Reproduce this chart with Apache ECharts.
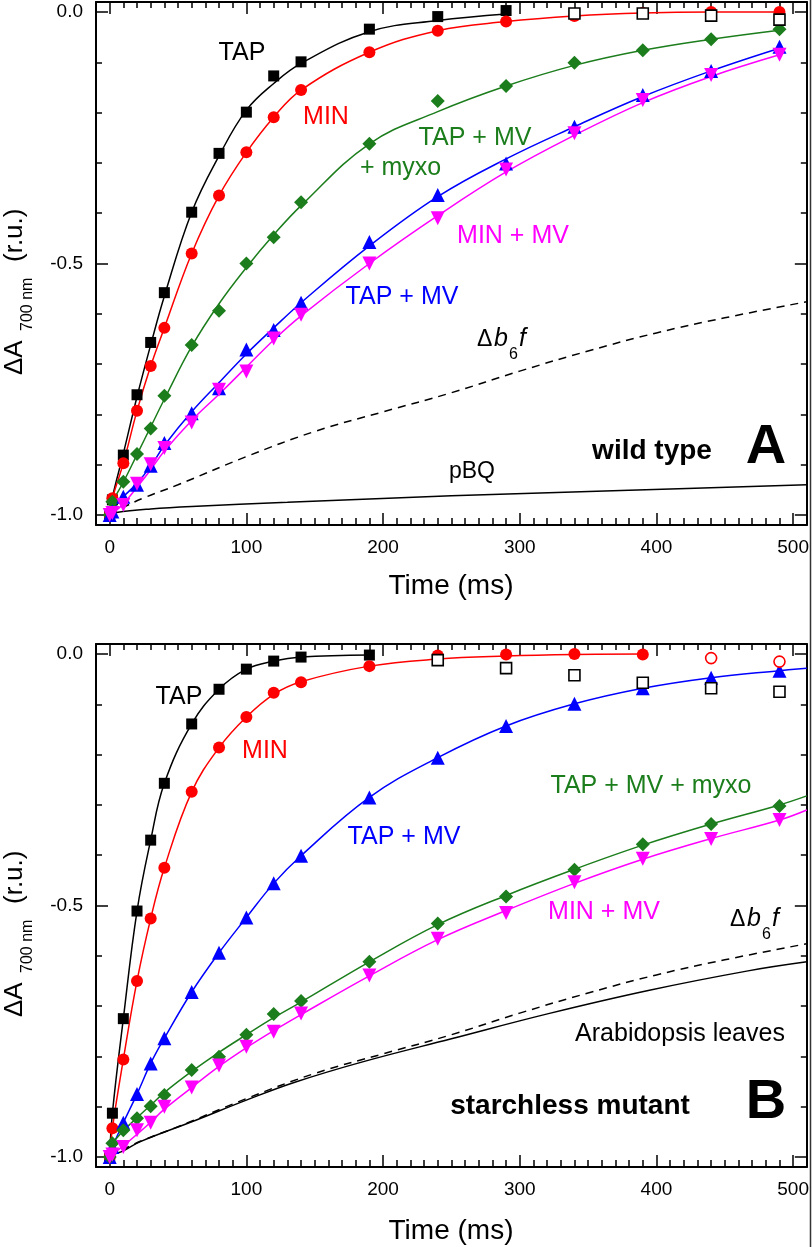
<!DOCTYPE html>
<html><head><meta charset="utf-8">
<script src="https://cdn.jsdelivr.net/npm/echarts@6/dist/echarts.min.js"></script>
<style>html,body{margin:0;padding:0;background:#fff}#c{width:812px;height:1247px}</style>
</head><body><div id="c"></div>
<script>
// ---------- data ----------
const timeMs = [0, 2, 10, 20, 30, 40, 60, 80, 100, 120, 140, 190, 240, 290, 340, 390, 440, 490];

// Panel A: wild type -- measured points
const A_TAP      = [-1.0, -0.970, -0.881, -0.761, -0.657, -0.558, -0.398, -0.281, -0.199, -0.127, -0.099, -0.034, -0.009, 0.003]; // 0..290
const A_TAP_open = [-0.003, -0.003, -0.007, -0.015];                                                                                // 340..490
const A_MIN      = [-1.0, -0.967, -0.897, -0.793, -0.704, -0.628, -0.480, -0.365, -0.279, -0.209, -0.155, -0.080, -0.037, -0.019, -0.008, -0.002, 0.0, 0.0];
const A_TAPMVmyxo= [-1.0, -0.974, -0.934, -0.879, -0.828, -0.763, -0.662, -0.594, -0.500, -0.448, -0.378, -0.262, -0.177, -0.147, -0.101, -0.076, -0.054, -0.034];
const A_TAPMV    = [-1.0, -0.993, -0.964, -0.940, -0.902, -0.857, -0.798, -0.748, -0.671, -0.632, -0.578, -0.457, -0.364, -0.301, -0.228, -0.165, -0.117, -0.069];
const A_MINMV    = [-1.0, -0.996, -0.980, -0.938, -0.899, -0.867, -0.816, -0.751, -0.715, -0.649, -0.602, -0.500, -0.410, -0.313, -0.241, -0.175, -0.125, -0.085];
// Panel A -- fitted curves (at the same times)
const A_TAP_fit      = [-1.0, -0.965, -0.878, -0.765, -0.662, -0.565, -0.398, -0.286, -0.195, -0.142, -0.102, -0.039, -0.017, -0.004];
const A_MIN_fit      = [-1.0, -0.967, -0.897, -0.793, -0.704, -0.628, -0.480, -0.365, -0.279, -0.209, -0.155, -0.080, -0.037, -0.019, -0.008, -0.002, 0.0, 0.0];
const A_TAPMVmyxo_fit= [-1.0, -0.975, -0.935, -0.880, -0.825, -0.770, -0.665, -0.580, -0.508, -0.443, -0.385, -0.262, -0.198, -0.147, -0.106, -0.076, -0.054, -0.036];
const A_TAPMV_fit    = [-1.0, -0.990, -0.964, -0.937, -0.903, -0.862, -0.795, -0.737, -0.680, -0.628, -0.578, -0.465, -0.367, -0.292, -0.228, -0.168, -0.117, -0.072];
const A_MINMV_fit    = [-1.0, -0.997, -0.978, -0.945, -0.910, -0.873, -0.812, -0.760, -0.706, -0.652, -0.604, -0.500, -0.405, -0.318, -0.245, -0.180, -0.128, -0.085];

// Panel B: starchless mutant -- measured points
const B_TAP      = [-1.0, -0.913, -0.725, -0.511, -0.370, -0.257, -0.139, -0.070, -0.030, -0.014, -0.006, -0.002];                   // 0..190
const B_TAP_open = [-0.012, -0.028, -0.042, -0.057, -0.068, -0.075];                                                               // 240..490
const B_MIN      = [-1.0, -0.943, -0.806, -0.650, -0.526, -0.425, -0.274, -0.186, -0.125, -0.077, -0.056, -0.024, -0.003, -0.001, 0.0, -0.001]; // 0..390
const B_MIN_open = [-0.008, -0.015];                                                                                                // 440..490
const B_TAPMV    = [-1.0, -0.980, -0.932, -0.875, -0.814, -0.764, -0.672, -0.594, -0.524, -0.456, -0.401, -0.285, -0.206, -0.143, -0.099, -0.068, -0.047, -0.033];
const B_TAPMVmyxo= [-1.0, -0.973, -0.947, -0.923, -0.899, -0.877, -0.827, -0.801, -0.757, -0.716, -0.690, -0.612, -0.536, -0.482, -0.429, -0.378, -0.338, -0.302];
const B_MINMV    = [-1.0, -0.995, -0.980, -0.947, -0.932, -0.900, -0.862, -0.818, -0.781, -0.751, -0.715, -0.639, -0.566, -0.515, -0.454, -0.407, -0.368, -0.330];
// Panel B -- fitted curves (times 0..490, then the right edge at 510)
const fitTimeB = [0, 2, 10, 20, 30, 40, 60, 80, 100, 120, 140, 190, 240, 290, 340, 390, 440, 490, 510];
const B_TAP_fit      = [-1.0, -0.913, -0.725, -0.511, -0.370, -0.257, -0.139, -0.070, -0.030, -0.014, -0.006, -0.002];
const B_MIN_fit      = [-1.0, -0.943, -0.806, -0.650, -0.526, -0.425, -0.274, -0.186, -0.125, -0.080, -0.055, -0.024, -0.010, -0.004, -0.001, 0.0];
const B_TAPMV_fit    = [-1.0, -0.980, -0.932, -0.875, -0.814, -0.764, -0.672, -0.594, -0.524, -0.456, -0.401, -0.285, -0.206, -0.143, -0.099, -0.068, -0.047, -0.033, -0.028];
const B_TAPMVmyxo_fit= [-1.0, -0.975, -0.948, -0.922, -0.897, -0.872, -0.830, -0.792, -0.757, -0.723, -0.692, -0.612, -0.538, -0.480, -0.428, -0.380, -0.338, -0.300, -0.282];
const B_MINMV_fit    = [-1.0, -0.995, -0.978, -0.955, -0.931, -0.905, -0.862, -0.820, -0.783, -0.749, -0.717, -0.640, -0.568, -0.510, -0.456, -0.408, -0.367, -0.330, -0.310];

// continuous traces
const b6fTime = [0, 10, 25, 50, 100, 150, 200, 250, 300, 350, 400, 450, 510];
const b6fVal  = [-1.0, -0.985, -0.966, -0.940, -0.884, -0.834, -0.795, -0.757, -0.714, -0.674, -0.638, -0.608, -0.576];
const pBQTime = [0, 5, 30, 60, 130, 250, 380, 510];
const pBQVal  = [-1.0, -0.995, -0.988, -0.983, -0.975, -0.962, -0.951, -0.940];
const arabTime = [0, 3, 10, 22, 63, 100, 136, 185, 250, 321, 394, 467, 510];
const arabVal  = [-1.0, -0.995, -0.988, -0.970, -0.927, -0.887, -0.851, -0.811, -0.765, -0.715, -0.669, -0.630, -0.612];

// ticks
const xMajor = [0, 100, 200, 300, 400, 500];
const xMinor = [0,10,20,30,40,50,60,70,80,90,100,110,120,130,140,150,160,170,180,190,200,210,220,230,240,250,260,270,280,290,300,310,320,330,340,350,360,370,380,390,400,410,420,430,440,450,460,470,480,490,500,510];
const yMajor = [-1.0, -0.5, 0.0];
const yMinor = [-1.0, -0.9, -0.8, -0.7, -0.6, -0.5, -0.4, -0.3, -0.2, -0.1, 0.0];

// ---------- styling ----------
const FONT = 'Liberation Sans, Arial, Helvetica, sans-serif';
const C = { black:'#000000', red:'#ff0000', green:'#1b7d1b', blue:'#0000ff', magenta:'#ff00ff' };

function pair(times, vals, start) { return vals.map((v, i) => [times[start + i], v]); }

const lineOn  = { show:true,  onZero:false, lineStyle:{color:'#000', width:2} };
const lineOff = { show:false, onZero:false };
const tk = (len, vals) => ({ show:true, inside:true, length:len, customValues:vals, lineStyle:{color:'#000', width:1.5} });

function xAxes(g) {
  const base = { gridIndex:g, type:'value', min:-10, max:510, splitLine:{show:false}, offset:0 };
  return [
    Object.assign({}, base, { position:'bottom', axisLine:lineOn, axisTick:tk(12, xMajor),
      axisLabel:{ show:true, customValues:xMajor, margin:13, fontSize:19, color:'#000', fontFamily:FONT } }),
    Object.assign({}, base, { position:'bottom', axisLine:lineOff, axisTick:tk(7, xMinor), axisLabel:{show:false} }),
    Object.assign({}, base, { position:'top', axisLine:lineOn, axisTick:tk(12, xMajor), axisLabel:{show:false} }),
    Object.assign({}, base, { position:'top', axisLine:lineOff, axisTick:tk(6, xMinor), axisLabel:{show:false} })
  ];
}
function yAxes(g) {
  const base = { gridIndex:g, type:'value', min:-1.02, max:0.02, splitLine:{show:false}, offset:0 };
  return [
    Object.assign({}, base, { position:'left', axisLine:lineOn, axisTick:tk(12, yMajor),
      axisLabel:{ show:true, customValues:yMajor, margin:13, fontSize:19, color:'#000', fontFamily:FONT,
                  formatter: v => Number(v).toFixed(1) } }),
    Object.assign({}, base, { position:'left', axisLine:lineOff, axisTick:tk(6, yMinor), axisLabel:{show:false} }),
    Object.assign({}, base, { position:'right', axisLine:lineOn, axisTick:tk(12, yMajor), axisLabel:{show:false} }),
    Object.assign({}, base, { position:'right', axisLine:lineOff, axisTick:tk(6, yMinor), axisLabel:{show:false} })
  ];
}

function fitLine(g, data, color, dashed) {
  return { type:'line', xAxisIndex:g*4, yAxisIndex:g*4, data:data, smooth:0.4, symbol:'none',
    lineStyle:{color:color, width:1.5, type: dashed ? [8, 6] : 'solid'}, z:2, clip:true, animation:false };
}
function pts(g, data, color, symbol, size, rot, z) {
  return { type:'scatter', xAxisIndex:g*4, yAxisIndex:g*4, data:data, symbol:symbol, symbolSize:size,
    symbolRotate:rot || 0, itemStyle:{color:color, opacity:1}, z:z, animation:false };
}
function openPts(g, data, color, symbol, size) {
  return { type:'scatter', xAxisIndex:g*4, yAxisIndex:g*4, data:data, symbol:symbol, symbolSize:size,
    itemStyle:{color:'#ffffff', borderColor:color, borderWidth:1.6, opacity:1}, z:9, animation:false };
}

const series = [
  // A: lines
  fitLine(0, pair(pBQTime, pBQVal, 0), C.black),
  fitLine(0, pair(b6fTime, b6fVal, 0), C.black, true),
  fitLine(0, pair(timeMs, A_TAP_fit, 0), C.black),
  fitLine(0, pair(timeMs, A_MIN_fit, 0), C.red),
  fitLine(0, pair(timeMs, A_TAPMVmyxo_fit, 0), C.green),
  fitLine(0, pair(timeMs, A_TAPMV_fit, 0), C.blue),
  fitLine(0, pair(timeMs, A_MINMV_fit, 0), C.magenta),
  // A: markers
  pts(0, pair(timeMs, A_TAP, 0), C.black, 'rect', 11, 0, 4),
  pts(0, pair(timeMs, A_MIN, 0), C.red, 'circle', 12, 0, 5),
  pts(0, pair(timeMs, A_TAPMVmyxo, 0), C.green, 'diamond', 14, 0, 6),
  pts(0, pair(timeMs, A_TAPMV, 0), C.blue, 'triangle', 14, 0, 7),
  pts(0, pair(timeMs, A_MINMV, 0), C.magenta, 'triangle', 14, 180, 8),
  openPts(0, pair(timeMs, A_TAP_open, 14), C.black, 'rect', 11),
  // B: lines
  fitLine(1, pair(arabTime, arabVal, 0), C.black),
  fitLine(1, pair(b6fTime, b6fVal, 0), C.black, true),
  fitLine(1, pair(fitTimeB, B_TAP_fit, 0), C.black),
  fitLine(1, pair(fitTimeB, B_MIN_fit, 0), C.red),
  fitLine(1, pair(fitTimeB, B_TAPMV_fit, 0), C.blue),
  fitLine(1, pair(fitTimeB, B_TAPMVmyxo_fit, 0), C.green),
  fitLine(1, pair(fitTimeB, B_MINMV_fit, 0), C.magenta),
  // B: markers
  pts(1, pair(timeMs, B_TAP, 0), C.black, 'rect', 11, 0, 4),
  pts(1, pair(timeMs, B_MIN, 0), C.red, 'circle', 12, 0, 5),
  pts(1, pair(timeMs, B_TAPMV, 0), C.blue, 'triangle', 14, 0, 6),
  pts(1, pair(timeMs, B_TAPMVmyxo, 0), C.green, 'diamond', 14, 0, 7),
  pts(1, pair(timeMs, B_MINMV, 0), C.magenta, 'triangle', 14, 180, 8),
  openPts(1, pair(timeMs, B_TAP_open, 12), C.black, 'rect', 11),
  openPts(1, pair(timeMs, B_MIN_open, 16), C.red, 'circle', 11)
];

// ---------- text annotations ----------
function T(x, y, text, o) {
  o = o || {};
  return { type:'text', x:x, y:y, z:100, silent:true,
    style:{ text:text, fill:o.fill || '#000', fontSize:o.size || 25, fontFamily:FONT,
      fontWeight:o.weight || 'normal', fontStyle:o.style || 'normal',
      align:o.align || 'center', verticalAlign:'middle', textAlign:o.align || 'center', textVerticalAlign:'middle' } };
}
function b6fLabel(x0, base) {
  return [
    T(x0, base - 8.5, 'Δ', {align:'left', size:23}),
    T(x0 + 17, base - 8.5, 'b', {align:'left', style:'italic'}),
    T(x0 + 32, base + 12 - 5.5, '6', {align:'left', size:16}),
    T(x0 + 42, base - 8.5, 'f', {align:'left', style:'italic'})
  ];
}
function yTitle(dy) {
  const st = (t, fs) => ({ text:t, fontSize:fs, fontFamily:FONT, fill:'#000', align:'left', verticalAlign:'middle', textAlign:'left', textVerticalAlign:'middle' });
  return { type:'group', x:0, y:0, rotation:Math.PI / 2, silent:true, children:[
    { type:'text', x:-(375 + dy), y:15, style:st('ΔA', 26) },
    { type:'text', x:-(331 + dy), y:28, style:st('700 nm', 16) },
    { type:'text', x:-(262 + dy), y:15, style:st('(r.u.)', 26) }
  ]};
}

const graphics = [
  // panel A
  T(242, 53, 'TAP'),
  T(326, 117, 'MIN', {fill:C.red}),
  T(475, 138, 'TAP + MV', {fill:C.green}),
  T(360, 168, '+ myxo', {fill:C.green, align:'left'}),
  T(513, 236, 'MIN + MV', {fill:C.magenta}),
  T(402, 297, 'TAP + MV', {fill:C.blue}),
  T(472, 472, 'pBQ', {size:23}),
  T(652, 451, 'wild type', {weight:'bold', size:28}),
  T(766, 448, 'A', {weight:'bold', size:56}),
  T(451, 586, 'Time (ms)', {size:28}),
  yTitle(0),
  // panel B
  T(179, 697, 'TAP'),
  T(265, 751, 'MIN', {fill:C.red}),
  T(404, 837, 'TAP + MV', {fill:C.blue}),
  T(651, 786, 'TAP + MV + myxo', {fill:C.green}),
  T(604, 912, 'MIN + MV', {fill:C.magenta}),
  T(680, 1034, 'Arabidopsis leaves', {size:25}),
  T(570, 1106, 'starchless mutant', {weight:'bold', size:28}),
  T(766, 1103, 'B', {weight:'bold', size:56}),
  T(451, 1231, 'Time (ms)', {size:28}),
  yTitle(642),
  { type:'line', shape:{x1:810.5, y1:0, x2:810.5, y2:1247}, style:{stroke:'#333', lineWidth:1.5}, z:50, silent:true }
].concat(b6fLabel(477, 348), b6fLabel(730, 928));

const chart = echarts.init(document.getElementById('c'), null, {renderer:'canvas'});
chart.setOption({
  animation:false,
  backgroundColor:'#ffffff',
  grid:[
    { left:96, top:2, width:711, height:523, containLabel:false },
    { left:96, top:644, width:711, height:523, containLabel:false }
  ],
  xAxis: xAxes(0).concat(xAxes(1)),
  yAxis: yAxes(0).concat(yAxes(1)),
  series: series,
  graphic: graphics
});
</script></body></html>
